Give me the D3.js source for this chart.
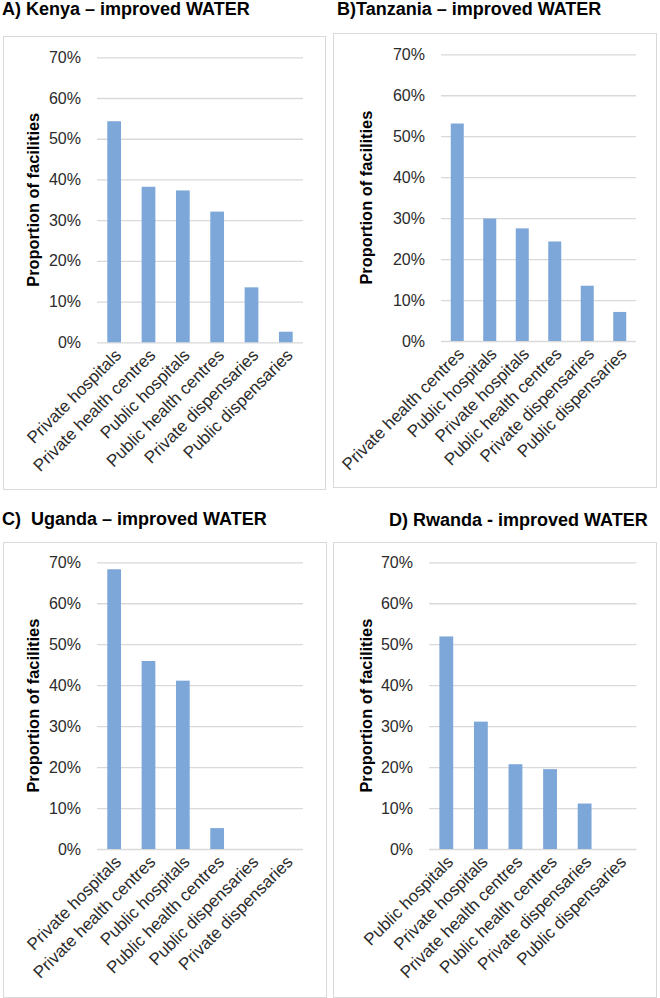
<!DOCTYPE html>
<html>
<head>
<meta charset="utf-8">
<script src="https://cdn.jsdelivr.net/npm/d3@7"></script>
<style>
  html, body { margin: 0; padding: 0; background: #ffffff; }
  svg { display: block; font-family: "Liberation Sans", Arial, sans-serif; }
</style>
</head>
<body>
<svg id="chart" width="660" height="998"></svg>
<script>
// ---------- data ----------
const titleA = "A) Kenya \u2013 improved WATER";
const catsA = ["Private hospitals", "Private health centres", "Public hospitals", "Public health centres", "Private dispensaries", "Public dispensaries"];
const valsA = [0.543, 0.382, 0.373, 0.321, 0.135, 0.026];

const titleB = "B)Tanzania \u2013 improved WATER";
const catsB = ["Private health centres", "Public hospitals", "Private hospitals", "Public health centres", "Private dispensaries", "Public dispensaries"];
const valsB = [0.531, 0.299, 0.275, 0.243, 0.135, 0.071];

const titleC = "C)  Uganda \u2013 improved WATER";
const catsC = ["Private hospitals", "Private health centres", "Public hospitals", "Public health centres", "Public dispensaries", "Private dispensaries"];
const valsC = [0.683, 0.459, 0.411, 0.051, 0, 0];

const titleD = "D) Rwanda - improved WATER";
const catsD = ["Public hospitals", "Private hospitals", "Private health centres", "Public health centres", "Private dispensaries", "Public dispensaries"];
const valsD = [0.519, 0.311, 0.207, 0.195, 0.111, 0];

const yTicks = [0, 0.1, 0.2, 0.3, 0.4, 0.5, 0.6, 0.7];
const yAxisTitle = "Proportion of facilities";

// ---------- layout ----------
const panels = [
  { title: titleA, cats: catsA, vals: valsA, box: [3.5, 36.5, 322, 453], plot: [97, 303, 57.3, 342.3], titleXY: [2, 15], yTitleX: 39 },
  { title: titleB, cats: catsB, vals: valsB, box: [333.5, 33.5, 323, 454], plot: [441, 636, 54.3, 341], titleXY: [337, 15], yTitleX: 372 },
  { title: titleC, cats: catsC, vals: valsC, box: [3.5, 542.5, 323, 455], plot: [97, 303, 562.3, 849], titleXY: [2, 525], yTitleX: 39 },
  { title: titleD, cats: catsD, vals: valsD, box: [333.5, 542.5, 323, 455], plot: [429, 636.5, 562.3, 849], titleXY: [389, 525.7], yTitleX: 372 }
];

const barColor = "#7da7d9";
const gridColor = "#d9d9d9";
const textColor = "#2b2b2b";

const svg = d3.select("#chart");

panels.forEach(p => {
  const g = svg.append("g");
  // title
  g.append("text")
    .attr("x", p.titleXY[0]).attr("y", p.titleXY[1])
    .attr("font-size", 18).attr("font-weight", "bold").attr("fill", "#000")
    .style("white-space", "pre")
    .attr("xml:space", "preserve")
    .text(p.title);
  // box
  g.append("rect")
    .attr("x", p.box[0]).attr("y", p.box[1]).attr("width", p.box[2]).attr("height", p.box[3])
    .attr("fill", "#fff").attr("stroke", gridColor).attr("stroke-width", 1);

  const [x0, x1, yTop, yBot] = p.plot;
  const x = d3.scaleBand().domain(p.cats).range([x0, x1]).paddingInner(0.6).paddingOuter(0.3);
  const y = d3.scaleLinear().domain([0, 0.7]).range([yBot, yTop]);

  // y axis (gridlines + labels)
  const yAxis = d3.axisLeft(y).tickValues(yTicks).tickFormat(d3.format(".0%"))
    .tickSize(-(x1 - x0)).tickPadding(16);
  const ya = g.append("g").attr("transform", `translate(${x0},0)`).call(yAxis);
  ya.select(".domain").remove();
  ya.selectAll(".tick line").attr("stroke", gridColor).attr("stroke-width", 1.3);
  ya.selectAll(".tick text").attr("font-size", 16).attr("fill", textColor)
    .attr("font-family", "Liberation Sans, Arial, sans-serif");

  // bars
  g.append("g").selectAll("rect").data(p.vals).join("rect")
    .attr("x", (d, i) => x(p.cats[i]))
    .attr("width", x.bandwidth())
    .attr("y", d => y(d))
    .attr("height", d => y(0) - y(d))
    .attr("fill", barColor);

  // x axis labels
  const xAxis = d3.axisBottom(x).tickSize(0).tickPadding(0);
  const xa = g.append("g").attr("transform", `translate(0,${yBot})`).call(xAxis);
  xa.select(".domain").remove();
  xa.selectAll(".tick text")
    .attr("font-size", 17).attr("fill", textColor)
    .attr("font-family", "Liberation Sans, Arial, sans-serif")
    .attr("text-anchor", "end")
    .attr("dy", null).attr("y", null)
    .attr("transform", "translate(8,14) rotate(-45)");

  // y axis title
  g.append("text")
    .attr("transform", `translate(${p.yTitleX},${(yTop + yBot) / 2}) rotate(-90)`)
    .attr("text-anchor", "middle")
    .attr("font-size", 16.4).attr("font-weight", "bold").attr("fill", "#000")
    .text(yAxisTitle);
});
</script>
</body>
</html>
